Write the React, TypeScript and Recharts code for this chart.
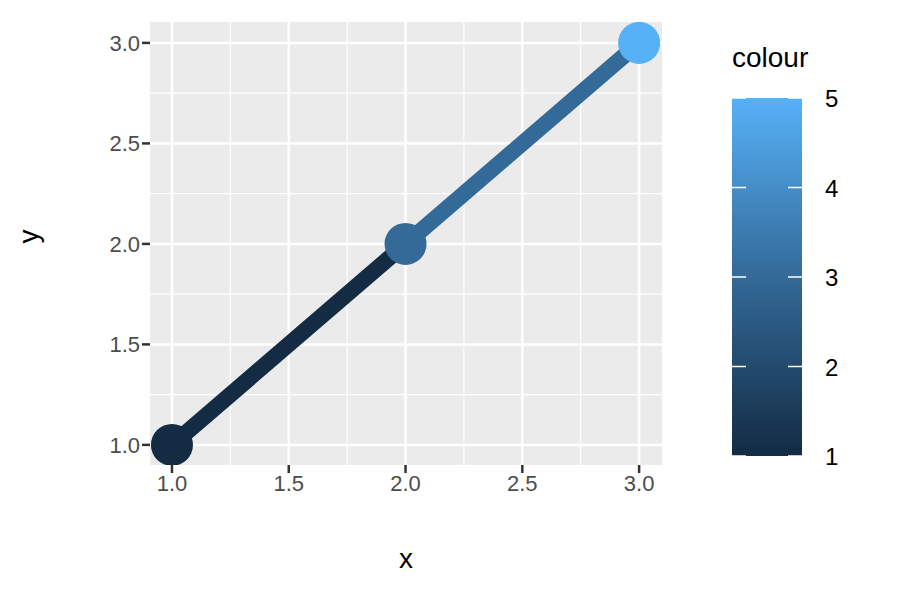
import React from "react";
import { ComposedChart, Line, Scatter, XAxis, YAxis, CartesianGrid, ReferenceLine, Cell } from "recharts";

const points = [
  { x: 1, y: 1, colour: 1 },
  { x: 2, y: 2, colour: 3 },
  { x: 3, y: 3, colour: 5 },
];
const segment1 = [{ x: 1, y: 1 }, { x: 2, y: 2 }];
const segment2 = [{ x: 2, y: 2 }, { x: 3, y: 3 }];
const segColours = ["#132B43", "#336A98"];
const pointColours = ["#132B43", "#336A98", "#56B1F7"];
const majorTicks = [1, 1.5, 2, 2.5, 3];
const minorTicks = [1.25, 1.75, 2.25, 2.75];
const legendTicks = [1, 2, 3, 4, 5];

const font = "'Liberation Sans', Arial, sans-serif";

export default function App() {
  const barTop = 98, barBottom = 456;
  const ly = (v: number) => barBottom - ((v - 1) / 4) * (barBottom - barTop);
  return (
    <div style={{ position: "absolute", left: 0, top: 0, width: 900, height: 600, background: "#fff", fontFamily: font }}>
      <ComposedChart width={900} height={600} margin={{ top: 22, right: 238, bottom: 0, left: 0 }}>
        <CartesianGrid fill="#EBEBEB" horizontal={false} vertical={false} stroke="none" />
        {minorTicks.map((v) => (
          <ReferenceLine key={"mx" + v} x={v} stroke="#fff" strokeWidth={1.2} />
        ))}
        {minorTicks.map((v) => (
          <ReferenceLine key={"my" + v} y={v} stroke="#fff" strokeWidth={1.2} />
        ))}
        {majorTicks.map((v) => (
          <ReferenceLine key={"Mx" + v} x={v} stroke="#fff" strokeWidth={2.5} />
        ))}
        {majorTicks.map((v) => (
          <ReferenceLine key={"My" + v} y={v} stroke="#fff" strokeWidth={2.5} />
        ))}
        <XAxis
          type="number" dataKey="x" domain={[0.906, 3.098]} ticks={majorTicks} allowDataOverflow
          height={135} axisLine={false} tickLine={{ stroke: "#333", strokeWidth: 2.5 }} tickSize={8}
          tickFormatter={(v) => v.toFixed(1)} tick={{ fill: "#4D4D4D", fontSize: 22, fontFamily: font }}
          label={{ value: "x", position: "insideBottom", offset: 32, fill: "#000", fontSize: 28, fontFamily: font }}
        />
        <YAxis
          type="number" dataKey="y" domain={[0.9, 3.104]} ticks={majorTicks} allowDataOverflow
          width={150} axisLine={false} tickLine={{ stroke: "#333", strokeWidth: 2.5 }} tickSize={8}
          tickFormatter={(v) => v.toFixed(1)} tick={{ fill: "#4D4D4D", fontSize: 22, fontFamily: font }}
          label={{ value: "y", angle: -90, position: "insideLeft", offset: 28, fill: "#000", fontSize: 28, fontFamily: font }}
        />
        <Line data={segment1} dataKey="y" stroke={segColours[0]} strokeWidth={16} dot={false} isAnimationActive={false} />
        <Line data={segment2} dataKey="y" stroke={segColours[1]} strokeWidth={16} dot={false} isAnimationActive={false} />
        <Scatter data={points} dataKey="y" isAnimationActive={false}
          shape={(p: any) => <circle cx={p.cx} cy={p.cy} r={21} fill={p.fill} />}>
          {points.map((pt, i) => (
            <Cell key={i} fill={pointColours[i]} />
          ))}
        </Scatter>
      </ComposedChart>
      <svg width={900} height={600} style={{ position: "absolute", left: 0, top: 0, pointerEvents: "none" }}>
        <defs>
          <linearGradient id="cb" x1="0" y1="1" x2="0" y2="0">
            <stop offset="0%" stopColor="#132B43" />
            <stop offset="50%" stopColor="#336A98" />
            <stop offset="100%" stopColor="#56B1F7" />
          </linearGradient>
        </defs>
        <text x={732} y={67} fontSize={28} fill="#000" fontFamily={font}>colour</text>
        <rect x={732} y={barTop} width={70} height={barBottom - barTop} fill="url(#cb)" />
        {legendTicks.map((v) => (
          <g key={v}>
            <line x1={732} x2={746} y1={ly(v)} y2={ly(v)} stroke="#fff" strokeWidth={1.5} />
            <line x1={788} x2={802} y1={ly(v)} y2={ly(v)} stroke="#fff" strokeWidth={1.5} />
            <text x={825} y={ly(v) + 9} fontSize={24} fill="#000" fontFamily={font}>{v}</text>
          </g>
        ))}
      </svg>
    </div>
  );
}
